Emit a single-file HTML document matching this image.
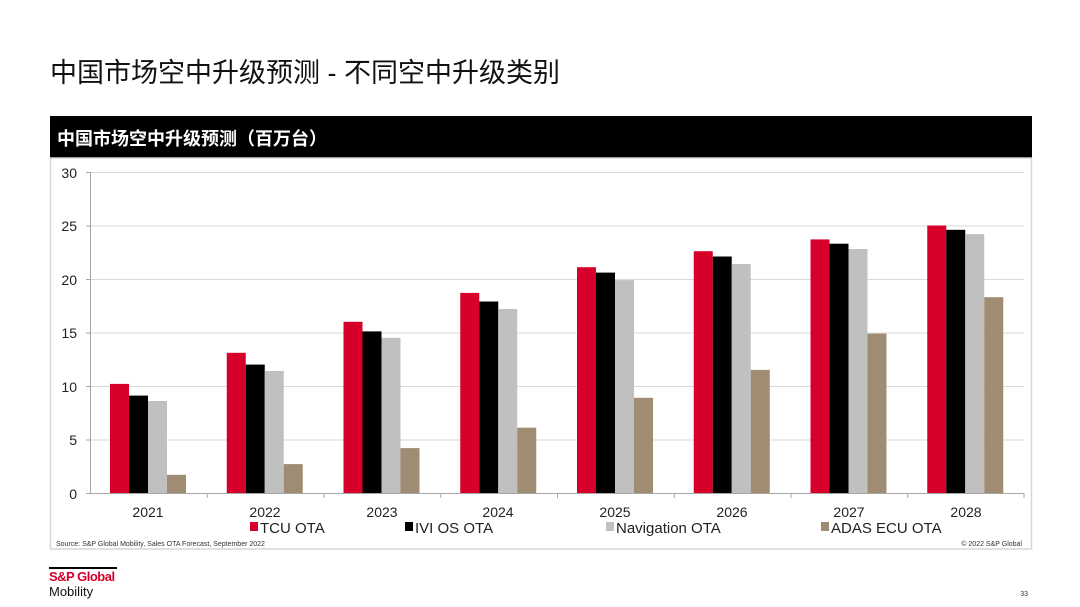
<!DOCTYPE html>
<html><head><meta charset="utf-8"><style>
html,body{margin:0;padding:0;background:#fff;}
svg{display:block;font-family:"Liberation Sans","Noto Sans CJK SC",sans-serif;}
</style></head><body>
<svg width="1080" height="607" viewBox="0 0 1080 607">
<text x="50" y="82" font-size="27" fill="#111">中国市场空中升级预测 - 不同空中升级类别</text>
<rect x="50" y="116" width="982" height="42" fill="#000"/>
<text x="57" y="145" font-size="18" font-weight="bold" fill="#fff">中国市场空中升级预测（百万台）</text>
<rect x="50.5" y="158" width="981" height="391" fill="none" stroke="#d6d6d6" stroke-width="1.5"/>
<g stroke="#d9d9d9" stroke-width="1">
<line x1="90" y1="172.5" x2="1024" y2="172.5"/><line x1="90" y1="226" x2="1024" y2="226"/>
<line x1="90" y1="279.5" x2="1024" y2="279.5"/><line x1="90" y1="333" x2="1024" y2="333"/>
<line x1="90" y1="386.5" x2="1024" y2="386.5"/><line x1="90" y1="440" x2="1024" y2="440"/>
</g>
<g stroke="#a6a6a6" stroke-width="1">
<line x1="90.5" y1="172" x2="90.5" y2="493"/><line x1="90" y1="493.5" x2="1024" y2="493.5"/>
<line x1="86" y1="172.5" x2="90" y2="172.5"/><line x1="86" y1="226" x2="90" y2="226"/><line x1="86" y1="279.5" x2="90" y2="279.5"/><line x1="86" y1="333" x2="90" y2="333"/><line x1="86" y1="386.5" x2="90" y2="386.5"/><line x1="86" y1="440" x2="90" y2="440"/><line x1="86" y1="493.5" x2="90" y2="493.5"/>
<line x1="207.25" y1="493" x2="207.25" y2="498"/><line x1="324" y1="493" x2="324" y2="498"/><line x1="440.75" y1="493" x2="440.75" y2="498"/><line x1="557.5" y1="493" x2="557.5" y2="498"/><line x1="674.25" y1="493" x2="674.25" y2="498"/><line x1="791" y1="493" x2="791" y2="498"/><line x1="907.75" y1="493" x2="907.75" y2="498"/><line x1="1024" y1="493" x2="1024" y2="498"/>
</g>
<g font-size="14" fill="#222" text-anchor="end">
<text x="77" y="178">30</text><text x="77" y="231">25</text><text x="77" y="285">20</text><text x="77" y="338">15</text><text x="77" y="392">10</text><text x="77" y="445">5</text><text x="77" y="499">0</text>
</g>
<g font-size="14" fill="#222" text-anchor="middle">
<text x="148" y="517">2021</text><text x="265" y="517">2022</text><text x="382" y="517">2023</text><text x="498" y="517">2024</text><text x="615" y="517">2025</text><text x="732" y="517">2026</text><text x="849" y="517">2027</text><text x="966" y="517">2028</text>
</g>
<g fill="#d6002a">
<rect x="110" y="383.9" width="19" height="109.1"/><rect x="226.75" y="352.8" width="19" height="140.2"/><rect x="343.5" y="321.8" width="19" height="171.2"/><rect x="460.25" y="292.9" width="19" height="200.1"/><rect x="577" y="267.2" width="19" height="225.8"/><rect x="693.75" y="251.2" width="19" height="241.8"/><rect x="810.5" y="239.4" width="19" height="253.6"/><rect x="927.25" y="225.5" width="19" height="267.5"/>
</g>
<g fill="#000">
<rect x="129" y="395.6" width="19" height="97.4"/><rect x="245.75" y="364.6" width="19" height="128.4"/><rect x="362.5" y="331.4" width="19" height="161.6"/><rect x="479.25" y="301.5" width="19" height="191.5"/><rect x="596" y="272.6" width="19" height="220.4"/><rect x="712.75" y="256.5" width="19" height="236.5"/><rect x="829.5" y="243.7" width="19" height="249.3"/><rect x="946.25" y="229.8" width="19" height="263.2"/>
</g>
<g fill="#c0c0c0">
<rect x="148" y="401" width="19" height="92"/><rect x="264.75" y="371" width="19" height="122"/><rect x="381.5" y="337.8" width="19" height="155.2"/><rect x="498.25" y="309" width="19" height="184"/><rect x="615" y="280.1" width="19" height="212.9"/><rect x="731.75" y="264" width="19" height="229"/><rect x="848.5" y="249" width="19" height="244"/><rect x="965.25" y="234.1" width="19" height="258.9"/>
</g>
<g fill="#a08c73">
<rect x="167" y="474.8" width="19" height="18.2"/><rect x="283.75" y="464.1" width="19" height="28.9"/><rect x="400.5" y="448.1" width="19" height="44.9"/><rect x="517.25" y="427.7" width="19" height="65.3"/><rect x="634" y="397.8" width="19" height="95.2"/><rect x="750.75" y="369.9" width="19" height="123.1"/><rect x="867.5" y="333.6" width="19" height="159.4"/><rect x="984.25" y="297.2" width="19" height="195.8"/>
</g>
<g font-size="15" fill="#222">
<rect x="250" y="522" width="8" height="9" fill="#d6002a"/><text x="260" y="533">TCU OTA</text>
<rect x="405" y="522" width="8" height="9" fill="#000"/><text x="415" y="533">IVI OS OTA</text>
<rect x="606" y="522" width="8" height="9" fill="#c0c0c0"/><text x="616" y="533">Navigation OTA</text>
<rect x="821" y="522" width="8" height="9" fill="#a08c73"/><text x="831" y="533">ADAS ECU OTA</text>
</g>
<text x="56" y="546" font-size="7" fill="#333">Source: S&amp;P Global Mobility, Sales OTA Forecast, September 2022</text>
<text x="1022" y="546" font-size="7" fill="#333" text-anchor="end">© 2022 S&amp;P Global</text>
<rect x="49" y="567" width="68" height="2" fill="#000"/>
<text x="49" y="581" font-size="13" font-weight="bold" fill="#d6002a" letter-spacing="-0.5">S&amp;P Global</text>
<text x="49" y="596" font-size="13" fill="#111">Mobility</text>
<text x="1028" y="596" font-size="7" fill="#333" text-anchor="end">33</text>
</svg>
</body></html>
